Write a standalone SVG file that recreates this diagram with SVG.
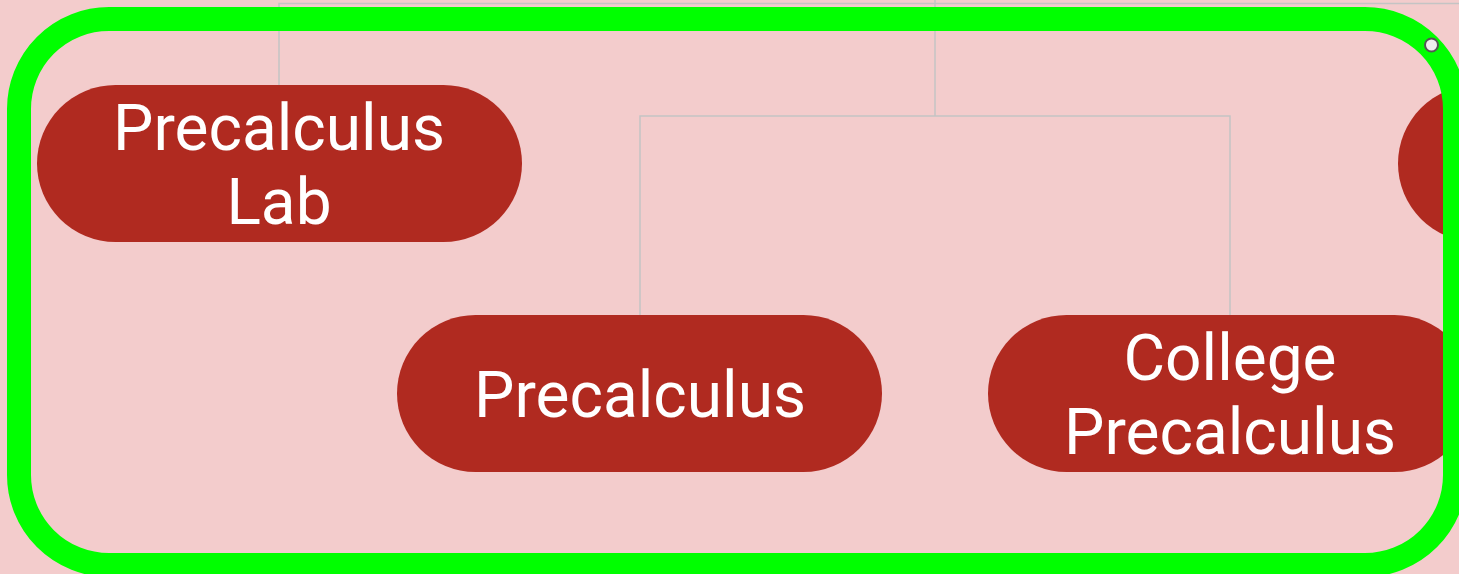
<svg xmlns="http://www.w3.org/2000/svg" width="1459" height="574" viewBox="0 0 1459 574">
<style>
.conn{fill:none;stroke:#c4c4c4;stroke-width:1.5}
.node{fill:#b02a20}
.lbl{fill:#ffffff;font-family:Roboto,"Liberation Sans",sans-serif;font-size:64px;text-anchor:middle}
</style>
<rect x="0" y="0" width="1459" height="574" fill="#f3cccc"/>
<g id="connectors">
<path class="conn" d="M279,85 V3.5 H1459"/>
<path class="conn" d="M935,0 V116"/>
<path class="conn" d="M640,315 V116 H1230 V315"/>
</g>
<g id="node-precalculus-lab">
<rect class="node" x="37" y="85" width="485" height="157" rx="78.5"/>
<text class="lbl" x="279" y="150">Precalculus</text>
<text class="lbl" x="279" y="224">Lab</text>
</g>
<g id="node-precalculus">
<rect class="node" x="397" y="315" width="485" height="157" rx="78.5"/>
<text class="lbl" x="640" y="417">Precalculus</text>
</g>
<g id="node-college-precalculus">
<rect class="node" x="988" y="315" width="485" height="157" rx="78.5"/>
<text class="lbl" x="1230" y="380">College</text>
<text class="lbl" x="1230" y="454">Precalculus</text>
</g>
<g id="node-right">
<rect class="node" x="1398" y="85" width="485" height="157" rx="78.5"/>
</g>
<g id="frame">
<rect x="19" y="19" width="1436" height="546" rx="90" ry="90" fill="none" stroke="#00ff00" stroke-width="24"/>
<circle cx="1431.5" cy="45" r="6.5" fill="#eeeeee" stroke="#555555" stroke-width="2"/>
</g>
</svg>
